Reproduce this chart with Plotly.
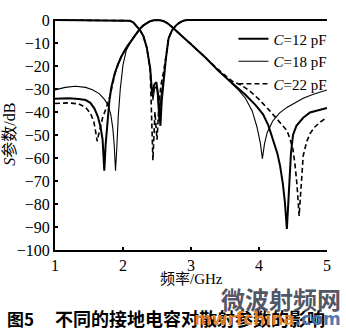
import plotly.graph_objects as go

# ---- data ----
labels = ["<i>C</i>=12 pF", "<i>C</i>=18 pF", "<i>C</i>=22 pF"]

# S21 curves (transmission)
s21_c12_f = [1.0, 1.2, 1.35, 1.45, 1.52, 1.58, 1.63, 1.67, 1.70, 1.725, 1.745, 1.77, 1.80, 1.83, 1.88, 1.93, 1.98,
             2.05, 2.13, 2.20, 2.25, 2.30, 2.35, 2.40, 2.45, 2.50, 2.55, 2.60, 2.65, 2.70, 2.75, 2.80, 2.90, 3.00,
             3.20, 3.40, 3.60, 3.80, 3.95, 4.06, 4.14, 4.21, 4.27, 4.31, 4.35, 4.38, 4.41, 4.43, 4.45, 4.47, 4.50,
             4.55, 4.65, 4.75, 4.90, 5.0]
s21_c12_db = [-34.2, -34.0, -34.3, -34.8, -36.0, -38.5, -42.0, -46.5, -52.0, -65.5, -54.0, -44.0, -35.0, -29.0, -23.0,
              -19.0, -15.6, -12.0, -8.6, -5.5, -3.8, -2.3, -1.2, -0.5, -0.1, 0.0, -0.1, -0.5, -1.3, -2.5, -3.8, -5.0,
              -8.0, -10.5, -16.0, -22.0, -27.3, -32.5, -37.0, -41.0, -46.0, -52.0, -58.0, -63.4, -71.0, -79.0, -90.8,
              -80.0, -68.0, -58.0, -50.0, -46.0, -42.5, -40.2, -39.0, -38.2]

s21_c18_f = [1.0, 1.15, 1.3, 1.45, 1.55, 1.65, 1.73, 1.78, 1.82, 1.85, 1.87, 1.89, 1.91, 1.93, 1.96, 2.00,
             2.05, 2.13, 2.20, 2.25, 2.30, 2.35, 2.40, 2.45, 2.50, 2.55, 2.60, 2.65, 2.70, 2.75, 2.80, 2.90, 3.00,
             3.20, 3.40, 3.60, 3.70, 3.80, 3.90, 3.97, 4.02, 4.05, 4.08, 4.12, 4.20, 4.30, 4.41, 4.55, 4.65,
             4.80, 5.0]
s21_c18_db = [-30.4, -29.3, -28.8, -29.3, -30.3, -32.0, -34.6, -37.0, -41.0, -47.0, -54.0, -65.5, -55.0, -42.0,
              -30.0, -19.5, -13.0, -8.6, -5.5, -3.8, -2.3, -1.2, -0.5, -0.1, 0.0, -0.1, -0.5, -1.3, -2.5, -3.8,
              -5.0, -8.0, -10.5, -16.0, -22.0, -27.6, -30.5, -34.0, -39.5, -46.5, -53.5, -60.3, -54.0, -49.0, -44.0,
              -40.5, -38.0, -35.5, -34.0, -32.3, -30.4]

s21_c22_f = [1.0, 1.2, 1.35, 1.45, 1.52, 1.57, 1.60, 1.62, 1.64, 1.67, 1.70, 1.75, 1.81, 1.85, 1.88, 1.93, 1.98,
             2.05, 2.13, 2.20, 2.25, 2.30, 2.35, 2.40, 2.45, 2.50, 2.55, 2.60, 2.65, 2.70, 2.75, 2.80, 2.90, 3.00,
             3.20, 3.40, 3.60, 3.75, 3.87, 4.00, 4.16, 4.30, 4.41, 4.46, 4.50, 4.53, 4.56, 4.59, 4.61, 4.63, 4.65,
             4.70, 4.75, 4.82, 4.90, 5.0]
s21_c22_db = [-36.3, -36.0, -36.5, -38.0, -40.5, -44.0, -49.0, -52.7, -50.0, -46.0, -42.5, -38.5, -33.0, -27.5,
              -23.5, -19.0, -15.6, -12.0, -8.6, -5.5, -3.8, -2.3, -1.2, -0.5, -0.1, 0.0, -0.1, -0.5, -1.3, -2.5,
              -3.8, -5.0, -8.0, -10.5, -16.0, -21.5, -26.5, -28.5, -31.0, -34.5, -39.5, -44.0, -48.0, -52.0,
              -56.4, -63.0, -72.0, -85.2, -77.0, -70.5, -59.0, -53.0, -49.4, -46.5, -44.4, -42.3]

# S11 curves (reflection)
s11_c12_f = [1.0, 2.05, 2.10, 2.15, 2.20, 2.25, 2.30, 2.35, 2.40, 2.43, 2.46, 2.49, 2.52, 2.55, 2.57, 2.60,
             2.63, 2.67, 2.72, 2.75, 2.80, 2.85, 2.90, 2.95, 5.0]
s11_c12_db = [0.0, 0.0, -0.3, -1.0, -2.5, -4.4, -7.0, -12.0, -21.0, -33.0, -28.0, -27.0, -33.0, -46.0, -35.0,
              -25.0, -17.0, -8.0, -4.5, -3.3, -1.8, -0.8, -0.2, 0.0, 0.0]

s11_c18_f = [1.0, 2.05, 2.10, 2.15, 2.20, 2.25, 2.30, 2.35, 2.40, 2.44, 2.47, 2.50, 2.53, 2.56, 2.60, 2.63,
             2.67, 2.72, 2.75, 2.80, 2.85, 2.90, 2.95, 5.0]
s11_c18_db = [0.0, 0.0, -0.3, -1.0, -2.5, -4.4, -7.0, -12.0, -21.0, -35.0, -29.0, -30.0, -44.0, -33.0, -24.0,
              -17.0, -8.0, -4.5, -3.3, -1.8, -0.8, -0.2, 0.0, 0.0]

s11_c22_f = [1.0, 2.05, 2.10, 2.15, 2.20, 2.25, 2.30, 2.35, 2.40, 2.44, 2.47, 2.50, 2.53, 2.56, 2.60, 2.63,
             2.67, 2.72, 2.75, 2.80, 2.85, 2.90, 2.95, 5.0]
s11_c22_db = [0.0, 0.0, -0.3, -1.0, -2.5, -4.4, -7.0, -12.0, -22.0, -61.0, -40.0, -52.0, -36.0, -28.0, -22.0,
              -16.0, -8.0, -4.5, -3.3, -1.8, -0.8, -0.2, 0.0, 0.0]

x_ticks = [1, 2, 3, 4, 5]
y_ticks = [0, -10, -20, -30, -40, -50, -60, -70, -80, -90, -100]

# ---- styles ----
styles = [dict(color="black", width=2.0, dash="solid"),
          dict(color="black", width=1.1, dash="solid"),
          dict(color="black", width=1.6, dash="5px,3px")]

fig = go.Figure()
s21 = [(s21_c12_f, s21_c12_db), (s21_c18_f, s21_c18_db), (s21_c22_f, s21_c22_db)]
s11 = [(s11_c12_f, s11_c12_db), (s11_c18_f, s11_c18_db), (s11_c22_f, s11_c22_db)]
for i in range(3):
    fig.add_trace(go.Scatter(x=s21[i][0], y=s21[i][1], mode="lines", line=styles[i],
                             name=labels[i], legendgroup=str(i), showlegend=True))
for i in range(3):
    fig.add_trace(go.Scatter(x=s11[i][0], y=s11[i][1], mode="lines", line=styles[i],
                             name=labels[i], legendgroup=str(i), showlegend=False))

tickfont = dict(family="Liberation Serif", size=16, color="black")
fig.update_layout(
    width=346, height=331,
    margin=dict(l=55, r=19, t=12, b=81),
    paper_bgcolor="white", plot_bgcolor="white",
    showlegend=True,
    legend=dict(x=1.02, y=0.985, xanchor="right", yanchor="top",
                bgcolor="rgba(0,0,0,0)", font=dict(family="Liberation Serif", size=15, color="black"),
                tracegroupgap=0, itemwidth=30),
    xaxis=dict(range=[1, 5], tickvals=x_ticks, ticks="inside", ticklen=3, tickwidth=1.5,
               tickcolor="black", showline=True, linecolor="black", linewidth=2,
               showgrid=False, zeroline=False, tickfont=tickfont, mirror=False),
    yaxis=dict(range=[-100, 0.45], tickvals=y_ticks, ticks="inside", ticklen=3, tickwidth=1.5,
               tickcolor="black", showline=True, linecolor="black", linewidth=2,
               showgrid=False, zeroline=False, tickfont=tickfont, mirror=False),
    annotations=[
        dict(text="<i>S</i>参数/dB", xref="paper", yref="paper", x=-0.168, y=0.5, xanchor="center",
             yanchor="middle", textangle=-90, showarrow=False,
             font=dict(family="Liberation Serif, Noto Sans CJK SC", size=16, color="black")),
        dict(text="频率/GHz", xref="paper", yref="paper", x=0.5, y=-0.125, xanchor="center",
             yanchor="middle", showarrow=False,
             font=dict(family="Liberation Serif, Noto Sans CJK SC", size=15, color="black")),
        dict(text="<b>图5</b>", xref="paper", yref="paper",
             x=-0.184, y=-0.295, xanchor="left", yanchor="middle", showarrow=False,
             font=dict(family="Noto Sans CJK SC", size=17, color="black")),
        dict(text="<b>不同的接地电容对散射参数的影响</b>", xref="paper", yref="paper",
             x=-0.007, y=-0.295, xanchor="left", yanchor="middle", showarrow=False,
             font=dict(family="Noto Sans CJK SC", size=18, color="black")),
        dict(text="<b>微波射频网</b>", xref="paper", yref="paper", x=1.06, y=-0.21,
             xanchor="right", yanchor="middle", showarrow=False,
             font=dict(family="Noto Sans CJK SC", size=24, color="rgba(60,64,80,0.9)")),
        dict(text="<b>mwrfchina<span style='color:#4a6fa5'>.com</span></b>", xref="paper", yref="paper",
             x=1.06, y=-0.30, xanchor="right", yanchor="middle", showarrow=False,
             font=dict(family="DejaVu Sans", size=17, color="rgba(232,128,40,0.95)")),
    ],
)

fig.write_html("out.html")
